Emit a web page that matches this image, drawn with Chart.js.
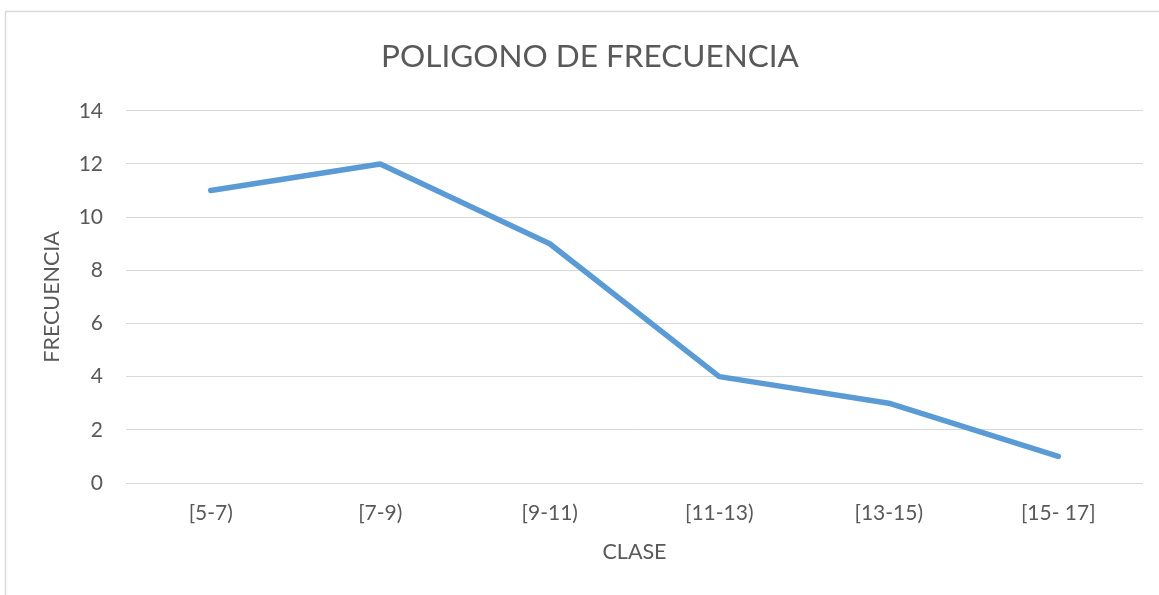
<!DOCTYPE html>
<html>
<head>
<meta charset="utf-8">
<script src="https://cdn.jsdelivr.net/npm/chart.js@4"></script>
<style>
  html, body { margin: 0; padding: 0; background: #fff; overflow: hidden; }
  #wrap { width: 1159px; height: 595px; }
</style>
</head>
<body>
<div id="wrap"><canvas id="chart-display" width="1159" height="595"></canvas></div>
<script>
var clases = ['[5-7)', '[7-9)', '[9-11)', '[11-13)', '[13-15)', '[15- 17]'];
var frecuencias = [11, 12, 9, 4, 3, 1];
var yTicks = [0, 2, 4, 6, 8, 10, 12, 14];

var gris = '#595959';
var fuente = 'Lato, "Open Sans", sans-serif';

// marco gris claro del grafico (sale por la derecha y abajo)
var marco = {
    id: 'marco',
    beforeDraw: function(chart) {
        var c = chart.ctx;
        c.save();
        c.strokeStyle = '#d9d9d9';
        c.lineWidth = 1.5;
        c.strokeRect(5.5, 11.5, 1400, 800);
        c.restore();
    }
};

var ctx = document.getElementById('chart-display');

new Chart(ctx, {
    type: 'line',
    data: {
        labels: clases,
        datasets: [{
            label: 'FRECUENCIA',
            data: frecuencias,
            borderColor: '#5b9bd5',
            backgroundColor: '#5b9bd5',
            borderWidth: 5.5,
            borderCapStyle: 'round',
            borderJoinStyle: 'round',
            pointRadius: 0,
            tension: 0,
            fill: false
        }]
    },
    options: {
        responsive: false,
        animation: false,
        layout: { padding: { left: 37, right: 16, top: 0, bottom: 0 } },
        plugins: {
            legend: { display: false },
            tooltip: { enabled: false },
            title: {
                display: true,
                text: 'POLIGONO DE FRECUENCIA',
                color: gris,
                font: { family: fuente, size: 31.5, weight: 'normal' },
                padding: { top: 38, bottom: 35 }
            }
        },
        scales: {
            x: {
                offset: true,
                grid: { display: false, drawTicks: false },
                border: { display: false },
                ticks: { color: gris, font: { family: fuente, size: 21 }, padding: 18 },
                title: {
                    display: true,
                    text: 'CLASE',
                    color: gris,
                    font: { family: fuente, size: 21.5 },
                    padding: { bottom: 30 }
                },
                afterFit: function(scale) { scale.height = 112; }
            },
            y: {
                min: 0,
                max: 14,
                grid: { color: '#d9d9d9', lineWidth: 1, drawTicks: false },
                border: { display: false },
                afterBuildTicks: function(scale) {
                    scale.ticks = yTicks.map(function(v) { return { value: v }; });
                },
                ticks: { color: gris, font: { family: fuente, size: 21 }, padding: 23 },
                title: {
                    display: true,
                    text: 'FRECUENCIA',
                    color: gris,
                    font: { family: fuente, size: 21.5 },
                    padding: { top: 2 }
                },
                afterFit: function(scale) { scale.width = 89; }
            }
        }
    },
    plugins: [marco]
});
</script>
</body>
</html>
